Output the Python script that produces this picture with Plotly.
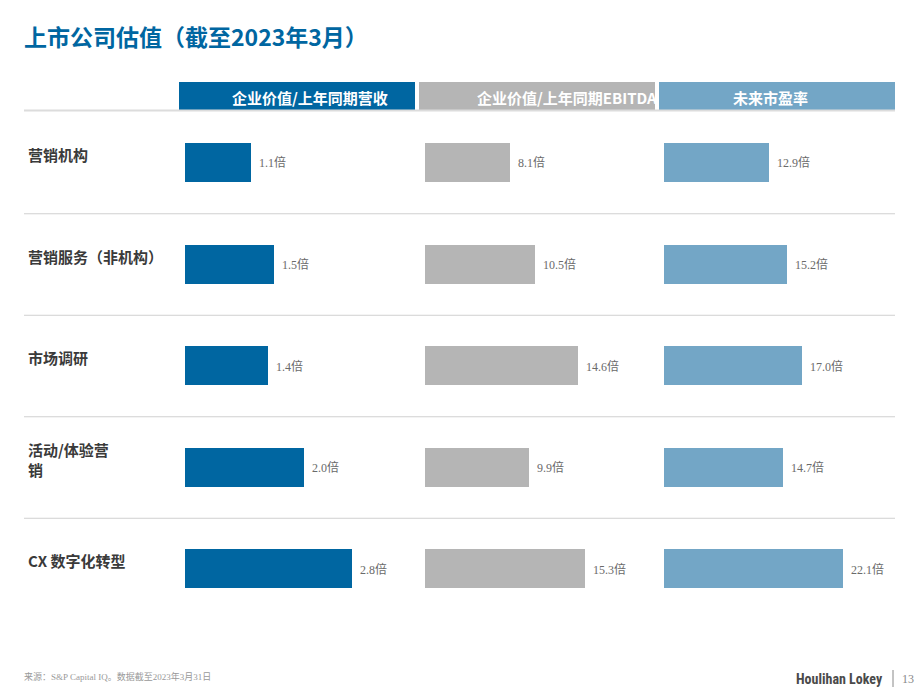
import plotly.graph_objects as go
from plotly.subplots import make_subplots

categories = ["营销机构", "营销服务（非机构）", "市场调研", "活动/体验营<br>销", "CX 数字化转型"]
ev_revenue = [1.1, 1.5, 1.4, 2.0, 2.8]
ev_ebitda = [8.1, 10.5, 14.6, 9.9, 15.3]
fwd_pe = [12.9, 15.2, 17.0, 14.7, 22.1]
headers = ["企业价值/上年同期营收", "企业价值/上年同期EBITDA", "未来市盈率"]
title = "上市公司估值（截至2023年3月）"
source = "来源：S&P Capital IQ。数据截至2023年3月31日"

W, H = 920, 690
colors = ["#0066a1", "#b5b5b5", "#73a6c6"]
series = [ev_revenue, ev_ebitda, fwd_pe]
xranges = [[0, 3.86], [0, 22.0], [0, 28.5]]
dom_px = [(185, 415), (425, 655), (664, 895)]
header_px = [(179, 415), (419, 655), (659, 895)]
header_text_x = [310, 567, 770]

CJK = "Noto Sans CJK SC, Noto Sans, sans-serif"
SERIF = "Liberation Serif, Noto Sans CJK SC, serif"

fig = make_subplots(rows=1, cols=3, shared_yaxes=True, horizontal_spacing=0.0)
ycats = list(range(len(categories)))
for i, (vals, col) in enumerate(zip(series, colors)):
    fig.add_trace(go.Bar(x=vals, y=ycats, orientation="h", marker=dict(color=col, line=dict(width=0)),
                         width=0.385, hoverinfo="skip", showlegend=False), row=1, col=i + 1)

y_top, y_bot = 112.25, 619.75
ydom = [1 - y_bot / H, 1 - y_top / H]
for i in range(3):
    ax = "xaxis" if i == 0 else f"xaxis{i+1}"
    fig.layout[ax].update(domain=[dom_px[i][0] / W, dom_px[i][1] / W], range=xranges[i],
                          visible=False, fixedrange=True)
fig.update_yaxes(domain=ydom, range=[len(categories) - 0.5, -0.5], visible=False)

shapes = []
for k in range(len(categories) - 1):
    shapes.append(dict(type="line", xref="paper", yref="y", x0=24 / W, x1=895 / W, y0=k + 0.5, y1=k + 0.5,
                       line=dict(color="#d0d0d0", width=1)))
shapes.append(dict(type="line", xref="paper", yref="paper", x0=24 / W, x1=895 / W, y0=1 - 110.5 / H, y1=1 - 110.5 / H,
                   line=dict(color="#dcdcdc", width=2)))
for (x0, x1), col in zip(header_px, colors):
    shapes.append(dict(type="rect", xref="paper", yref="paper", x0=x0 / W, x1=x1 / W, y0=1 - 110 / H, y1=1 - 82 / H,
                       fillcolor=col, line=dict(width=0), layer="below"))
shapes.append(dict(type="line", xref="paper", yref="paper", x0=893 / W, x1=893 / W, y0=1 - 687 / H, y1=1 - 670 / H,
                   line=dict(color="#888888", width=1)))

ann = []
ann.append(dict(text=title, xref="paper", yref="paper", x=22 / W, y=1 - 36 / H, xanchor="left", yanchor="middle",
                showarrow=False, font=dict(family=CJK, size=23, color="#0066a1", weight="bold")))
for txt, cx in zip(headers, header_text_x):
    ann.append(dict(text=txt, xref="paper", yref="paper", x=cx / W, y=1 - 97 / H, xanchor="center", yanchor="middle",
                    showarrow=False, font=dict(family=CJK, size=15, color="white", weight="bold")))
for k, c in enumerate(categories):
    ann.append(dict(text=c, xref="paper", yref="y", x=26 / W, y=k - 0.08,
                    xanchor="left", yanchor="middle", align="left", showarrow=False,
                    font=dict(family=CJK, size=15, color="#3a3a3a", weight="bold")))
for i, vals in enumerate(series):
    xr = "x" if i == 0 else f"x{i+1}"
    for k, v in enumerate(vals):
        ann.append(dict(text=f"{v:.1f}倍", xref=xr, yref="y", x=v, y=k, xanchor="left", yanchor="middle",
                        xshift=6, showarrow=False, font=dict(family=SERIF, size=12, color="#6a6a6a")))
ann.append(dict(text=source, xref="paper", yref="paper", x=22 / W, y=1 - 676 / H, xanchor="left", yanchor="middle",
                showarrow=False, font=dict(family=SERIF, size=9, color="#999999")))
ann.append(dict(text="Houlihan Lokey", xref="paper", yref="paper", x=885 / W, y=1 - 679 / H, xanchor="right",
                yanchor="middle", showarrow=False,
                font=dict(family="Liberation Sans Narrow, Roboto Condensed, Roboto, sans-serif", size=14,
                          color="#4a4a4a", weight="bold")))
ann.append(dict(text="13", xref="paper", yref="paper", x=900 / W, y=1 - 679 / H, xanchor="left", yanchor="middle",
                showarrow=False, font=dict(family=SERIF, size=12, color="#888888")))

fig.update_layout(width=W, height=H, margin=dict(l=0, r=0, t=0, b=0), paper_bgcolor="white", plot_bgcolor="white",
                  shapes=shapes, annotations=ann, bargap=0)
fig.write_html("out.html")
